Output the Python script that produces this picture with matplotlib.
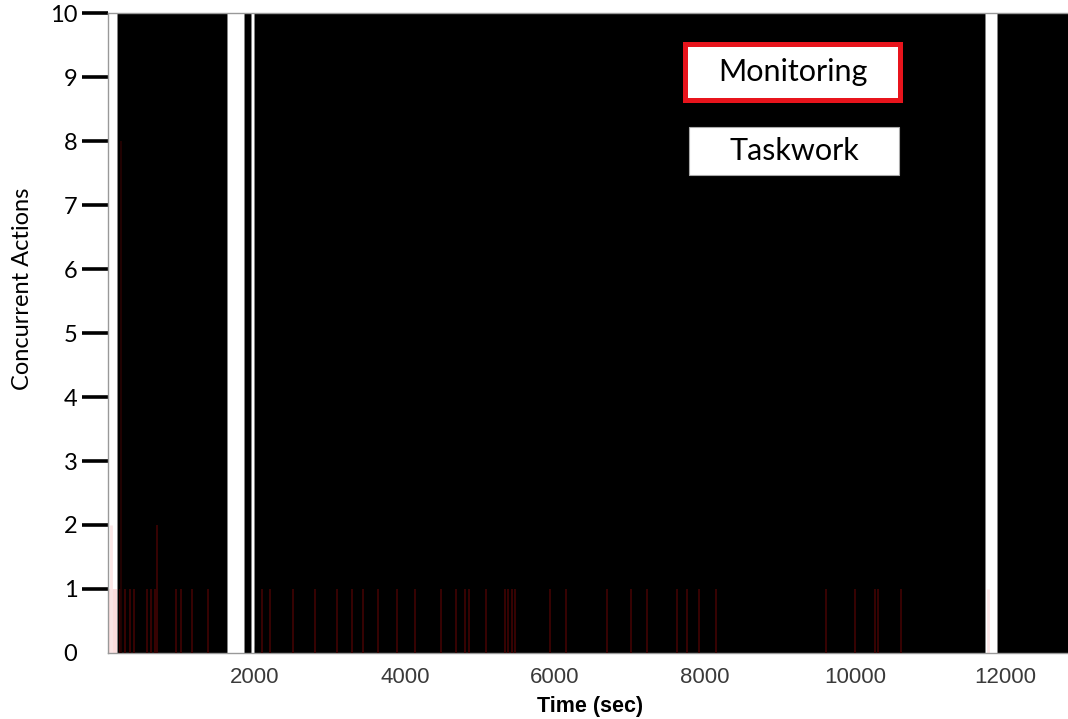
import numpy as np
import matplotlib.pyplot as plt
from matplotlib.patches import Rectangle

OUTPUT_FILE = "out.png"

# taskwork blocks (start, end in sec), drawn as full-height black bars
TASK_START = [160, 1853, 1982, 11893]
TASK_END = [1627, 1950, 11733, 12900]
TASK_LEVEL = [10, 10, 10, 10]

# monitoring actions: time (sec) and number of concurrent actions
MON_TIME = [200, 266, 333, 386, 560, 613, 666, 693, 946, 1013, 1160, 1373,
            2089, 2200, 2506, 2800, 3093, 3293, 3440, 3640, 3893, 4133,
            4480, 4680, 4800, 4853, 5080, 5333, 5373, 5426, 5466, 5933,
            6146, 6693, 7009, 7230, 7622, 7756, 7924, 8146, 9613, 10000,
            10270, 10310, 10613]
MON_LEVEL = [1, 1, 1, 1, 1, 1, 1, 2, 1, 1, 1, 1,
             1, 1, 1, 1, 1, 1, 1, 1, 1, 1,
             1, 1, 1, 1, 1, 1, 1, 1, 1, 1,
             1, 1, 1, 1, 1, 1, 1, 1, 1, 1,
             1, 1, 1]

# one long monitoring streak near the start
STREAK_TIME = [213]
STREAK_LEVEL = [8]

# faint monitoring outside taskwork (pale, no black behind)
PALE_START = [40]
PALE_END = [160]
PALE_LEVEL = [1]
PALE_LINE_TIME = [80, 11770]
PALE_LINE_LEVEL = [2, 1]

X_TICKS = [2000, 4000, 6000, 8000, 10000, 12000]
Y_TICKS = list(range(0, 11))

fig = plt.figure(figsize=(10.68, 7.19), dpi=100, facecolor="white")
ax = fig.add_axes([0.1011, 0.0918, 0.8989, 0.8901])

# pale pink region at far left
ax.bar(
    PALE_START,
    PALE_LEVEL,
    width=np.array(PALE_END) - np.array(PALE_START),
    align="edge",
    color="#fcdede",
    linewidth=0,
    zorder=1
)
ax.vlines(PALE_LINE_TIME, 0, PALE_LINE_LEVEL, color="#fbe6e6", linewidth=2, zorder=1)

# taskwork
ax.bar(
    TASK_START,
    TASK_LEVEL,
    width=np.array(TASK_END) - np.array(TASK_START),
    align="edge",
    color="black",
    edgecolor="#888888",
    linewidth=0.4,
    zorder=2
)

# monitoring
ax.vlines(MON_TIME, 0, MON_LEVEL, color="#3c0303", linewidth=1.3, zorder=3)
ax.vlines(STREAK_TIME, 0, STREAK_LEVEL, color="#240202", linewidth=1.3, zorder=3)

ax.set_xlim(40, 12840)
ax.set_ylim(0, 10)

ax.set_xticks(X_TICKS)
ax.set_xticklabels([str(t) for t in X_TICKS], fontsize=16,
                   family="Liberation Sans", color="#3a3a3a")
ax.tick_params(axis="x", direction="in", length=5, width=1,
               color="#888888", pad=10)

ax.set_yticks(Y_TICKS)
ax.set_yticklabels([str(t) for t in Y_TICKS], fontsize=17, family="Lato")
ax.tick_params(axis="y", direction="out", length=19, width=2.6,
               color="black", pad=3)
ax.yaxis.get_major_ticks()[0].tick1line.set_visible(False)

for side in ["left", "top", "bottom"]:
    ax.spines[side].set_color("#999999")
    ax.spines[side].set_linewidth(1)
ax.spines["right"].set_visible(False)

ax.set_xlabel("Time (sec)", fontsize=15.5, fontweight="bold",
              family="Liberation Sans")
ax.xaxis.set_label_coords(0.502, -0.084)
ax.xaxis.label.set_va("center")

fig.text(0.0206, 0.598, "Concurrent Actions", rotation=90,
         ha="center", va="center", fontsize=17, family="Lato")

# legend boxes
ax.add_patch(Rectangle((0.6015, 0.8635), 0.224, 0.0875,
                       transform=ax.transAxes, facecolor="white",
                       edgecolor="#e8141c", linewidth=3.6, zorder=5))
ax.text(0.7135, 0.908, "Monitoring", transform=ax.transAxes,
        ha="center", va="center", fontsize=22, family="Lato", zorder=6)

ax.add_patch(Rectangle((0.605, 0.747), 0.219, 0.075,
                       transform=ax.transAxes, facecolor="white",
                       edgecolor="#aaaaaa", linewidth=0.8, zorder=5))
ax.text(0.7146, 0.784, "Taskwork", transform=ax.transAxes,
        ha="center", va="center", fontsize=22, family="Lato", zorder=6)

plt.savefig(OUTPUT_FILE, dpi=100)
